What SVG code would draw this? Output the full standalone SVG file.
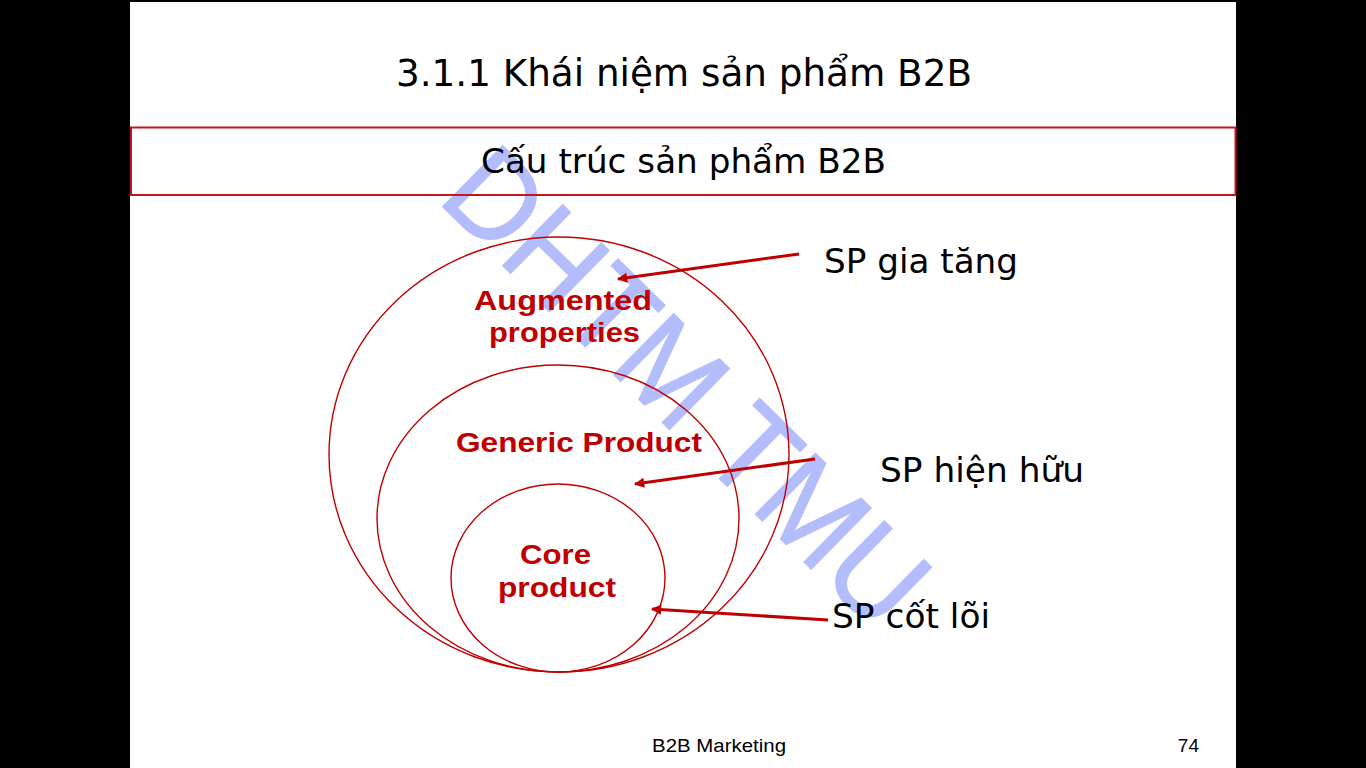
<svg xmlns="http://www.w3.org/2000/svg" width="1366" height="768" viewBox="0 0 1366 768">
  <defs>
    <marker id="arrowhead" viewBox="0 0 10 10" refX="9" refY="5" markerWidth="4" markerHeight="3.4" orient="auto" markerUnits="strokeWidth">
      <path d="M0,0 L10,5 L0,10 z" fill="#c00000"/>
    </marker>
    <style>
      .title { font-family: "DejaVu Sans", Verdana, sans-serif; fill: #000; }
      .ring { fill: none; stroke: #c00000; stroke-width: 1.4; }
      .ring-label { font-family: "Liberation Sans", Arial, sans-serif; font-weight: bold; font-size: 28px; fill: #c00000; text-anchor: middle; }
      .side-label { font-family: "DejaVu Sans", Verdana, sans-serif; font-size: 33px; fill: #000; }
      .pointer { stroke: #c00000; stroke-width: 3; fill: none; marker-end: url(#arrowhead); }
      .footer { font-family: "Liberation Sans", Arial, sans-serif; font-size: 19px; fill: #000; }
      .watermark { font-family: "Liberation Sans", Arial, sans-serif; font-size: 124px; fill: #b4bdfc; stroke: #b4bdfc; stroke-width: 1.5; }
    </style>
  </defs>

  <!-- screen background and slide area -->
  <rect x="0" y="0" width="1366" height="768" fill="#000"/>
  <rect x="130" y="2" width="1106" height="766" fill="#fff"/>

  <!-- watermark -->
  <text class="watermark" transform="translate(436,200) rotate(44.5)" x="0" y="0" textLength="620" lengthAdjust="spacingAndGlyphs">DHTM TMU</text>

  <!-- slide heading -->
  <g id="heading">
    <text class="title" x="684" y="86" font-size="37" text-anchor="middle" textLength="576" lengthAdjust="spacingAndGlyphs">3.1.1 Khái niệm sản phẩm B2B</text>
  </g>

  <!-- subheading banner -->
  <g id="banner">
    <rect x="131" y="127.5" width="1104.5" height="67.5" fill="none" stroke="#c8141c" stroke-width="2"/>
    <text class="title" x="683.5" y="173" font-size="33" text-anchor="middle" textLength="405" lengthAdjust="spacingAndGlyphs">Cấu trúc sản phẩm B2B</text>
  </g>

  <!-- product levels -->
  <g id="augmented">
    <ellipse class="ring" cx="559" cy="454.5" rx="230" ry="217.5"/>
    <text class="ring-label" x="563" y="310" textLength="178" lengthAdjust="spacingAndGlyphs">Augmented</text>
    <text class="ring-label" x="564.5" y="342" textLength="151" lengthAdjust="spacingAndGlyphs">properties</text>
  </g>
  <g id="generic">
    <ellipse class="ring" cx="558" cy="518.5" rx="181" ry="153.5"/>
    <text class="ring-label" x="579" y="452" textLength="246" lengthAdjust="spacingAndGlyphs">Generic Product</text>
  </g>
  <g id="core">
    <ellipse class="ring" cx="558" cy="578" rx="107" ry="94"/>
    <text class="ring-label" x="555.5" y="564" textLength="71" lengthAdjust="spacingAndGlyphs">Core</text>
    <text class="ring-label" x="557" y="597" textLength="118" lengthAdjust="spacingAndGlyphs">product</text>
  </g>

  <!-- side labels -->
  <g id="label-augmented">
    <text class="side-label" x="824" y="273" textLength="194" lengthAdjust="spacingAndGlyphs">SP gia tăng</text>
  </g>
  <g id="label-generic">
    <text class="side-label" x="880" y="482" textLength="204" lengthAdjust="spacingAndGlyphs">SP hiện hữu</text>
  </g>
  <g id="label-core">
    <text class="side-label" x="832" y="628" textLength="158" lengthAdjust="spacingAndGlyphs">SP cốt lõi</text>
  </g>

  <!-- pointers from labels to levels -->
  <g id="connectors">
    <line class="pointer" x1="799" y1="254" x2="618" y2="279"/>
    <line class="pointer" x1="815" y1="459" x2="635" y2="484"/>
    <line class="pointer" x1="828" y1="620" x2="652" y2="609"/>
  </g>

  <!-- footer -->
  <g id="footer">
    <text class="footer" x="652" y="752" textLength="134" lengthAdjust="spacingAndGlyphs">B2B Marketing</text>
    <text class="footer" x="1199" y="752" text-anchor="end">74</text>
  </g>
</svg>
